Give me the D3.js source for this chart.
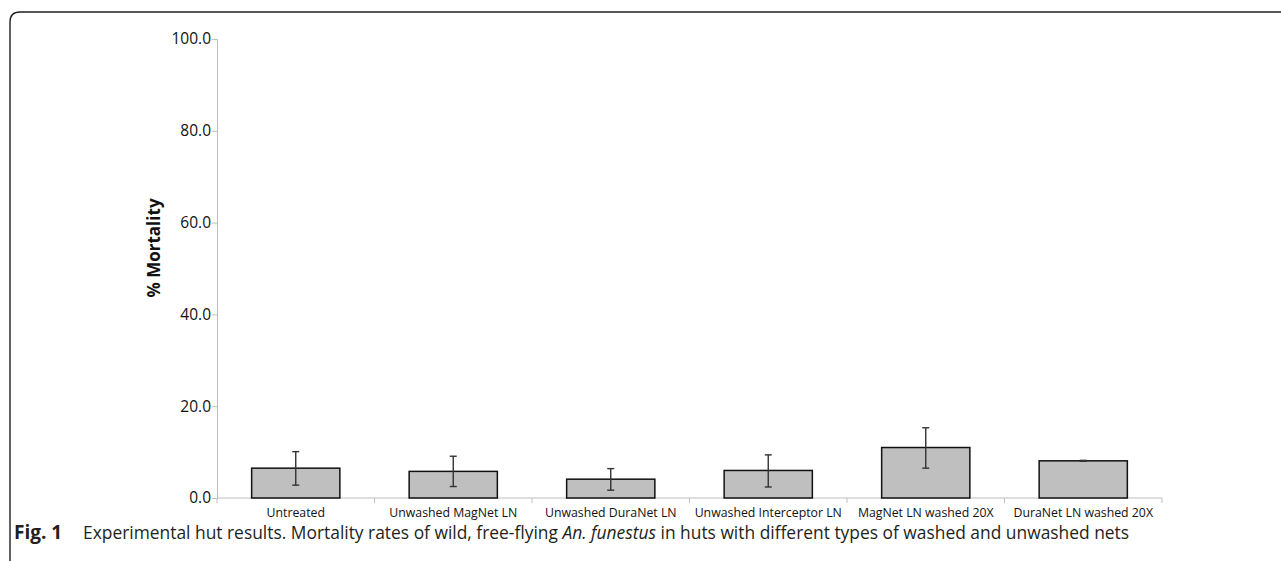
<!DOCTYPE html>
<html>
<head>
<meta charset="utf-8">
<script src="https://cdn.jsdelivr.net/npm/d3@7"></script>
<style>
  body { margin: 0; background: #fff; }
  svg { display: block; }
</style>
</head>
<body>
<svg width="1281" height="561"></svg>
<script>
var svg = d3.select("svg");

// Data
var categories = ["Untreated", "Unwashed MagNet LN", "Unwashed DuraNet LN",
    "Unwashed Interceptor LN", "MagNet LN washed 20X", "DuraNet LN washed 20X"];
var mortality = [6.5, 5.8, 4.1, 6.0, 11.0, 8.1];
var errLow = [2.8, 2.5, 1.7, 2.4, 6.5, 8.0];
var errHigh = [10.1, 9.1, 6.4, 9.4, 15.3, 8.2];
var yTicks = [0, 20, 40, 60, 80, 100];

// Frame with rounded top-left corner
svg.append("path")
    .attr("d", "M10,561 L10,22 Q10,12 20,12 L1281,12")
    .attr("fill", "none")
    .attr("stroke", "#231f20")
    .attr("stroke-width", 1.4);

var x = d3.scaleBand().domain(categories).range([217, 1162]).paddingInner(0.44).paddingOuter(0.22);
var y = d3.scaleLinear().domain([0, 100]).range([498, 39]);

// y axis
var yAxis = svg.append("g")
    .attr("transform", "translate(217,0)")
    .call(d3.axisLeft(y).tickValues(yTicks).tickSize(5).tickFormat(d3.format(".1f")));
yAxis.selectAll("path, line").attr("stroke", "#bfbfbf");
yAxis.selectAll("text")
    .attr("font-family", "Open Sans, sans-serif")
    .attr("font-size", 15.5)
    .attr("fill", "#111")
    .attr("x", -6);

// x axis baseline and category ticks
var xAxis = svg.append("g").attr("transform", "translate(0,498)");
xAxis.append("line")
    .attr("x1", 217).attr("x2", 1162)
    .attr("stroke", "#bfbfbf");
xAxis.selectAll(".tk").data(d3.range(categories.length + 1)).enter().append("line")
    .attr("x1", function(d) { return 217 + d * x.step(); })
    .attr("x2", function(d) { return 217 + d * x.step(); })
    .attr("y1", 0).attr("y2", 5)
    .attr("stroke", "#bfbfbf");
xAxis.selectAll(".lab").data(categories).enter().append("text")
    .attr("x", function(d) { return x(d) + x.bandwidth() / 2; })
    .attr("y", 19)
    .attr("text-anchor", "middle")
    .attr("font-family", "Open Sans, sans-serif")
    .attr("font-size", 12.3)
    .attr("fill", "#111")
    .text(function(d) { return d; });

// Bars
svg.selectAll(".bar").data(mortality).enter().append("rect")
    .attr("x", function(d, i) { return x(categories[i]); })
    .attr("y", function(d) { return y(d); })
    .attr("width", x.bandwidth())
    .attr("height", function(d) { return y(0) - y(d); })
    .attr("fill", "#bfbfbf")
    .attr("stroke", "#111")
    .attr("stroke-width", 1.5);

// Error bars
var eb = svg.selectAll(".err").data(mortality).enter().append("g")
    .attr("stroke", "#333")
    .attr("stroke-width", 1.4);
eb.append("line")
    .attr("x1", function(d, i) { return x(categories[i]) + x.bandwidth() / 2; })
    .attr("x2", function(d, i) { return x(categories[i]) + x.bandwidth() / 2; })
    .attr("y1", function(d, i) { return y(errLow[i]); })
    .attr("y2", function(d, i) { return y(errHigh[i]); });
[errLow, errHigh].forEach(function(arr) {
    eb.append("line")
        .attr("x1", function(d, i) { return x(categories[i]) + x.bandwidth() / 2 - 3.5; })
        .attr("x2", function(d, i) { return x(categories[i]) + x.bandwidth() / 2 + 3.5; })
        .attr("y1", function(d, i) { return y(arr[i]); })
        .attr("y2", function(d, i) { return y(arr[i]); });
});

// y axis title
svg.append("text")
    .attr("transform", "translate(160,248) rotate(-90)")
    .attr("text-anchor", "middle")
    .attr("font-family", "Open Sans, sans-serif")
    .attr("font-weight", "bold")
    .attr("font-size", 17)
    .attr("fill", "#111")
    .text("% Mortality");

// Caption
var cap = svg.append("text")
    .attr("x", 14).attr("y", 539)
    .attr("font-family", "Open Sans, sans-serif")
    .attr("font-size", 17.4)
    .attr("fill", "#231f20");
cap.append("tspan").attr("font-weight", "bold").attr("font-size", 19).text("Fig. 1");
cap.append("tspan").attr("x", 83).text("Experimental hut results. Mortality rates of wild, free-flying ");
cap.append("tspan").attr("font-style", "italic").text("An. funestus");
cap.append("tspan").text(" in huts with different types of washed and unwashed nets");
</script>
</body>
</html>
